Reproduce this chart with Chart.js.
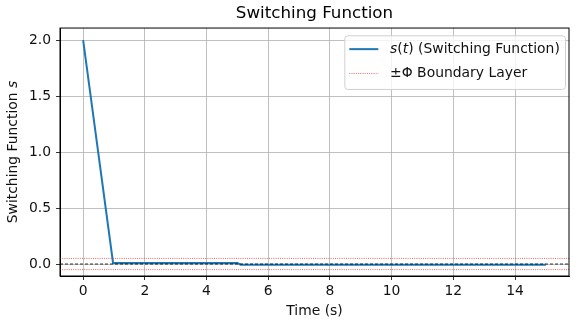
<!DOCTYPE html>
<html>
<head>
<meta charset="utf-8">
<script src="https://cdn.jsdelivr.net/npm/chart.js@4.4.1/dist/chart.umd.min.js"></script>
<style>
  html, body { margin: 0; padding: 0; background: #fff; }
  #wrap { width: 580px; height: 324px; }
</style>
</head>
<body>
<div id="wrap"><canvas id="chart" width="580" height="324"></canvas></div>
<script>
// values
const timeS = [0, 0.97, 5.0, 5.1, 15];
const switchingS = [2.0, 0.01, 0.01, -0.006, -0.006];
const phi = 0.05;
const xLimits = [-0.75, 15.75];
const yLimits = [-0.107, 2.107];
const xTicks = [0, 2, 4, 6, 8, 10, 12, 14];
const yTicks = [0, 0.5, 1.0, 1.5, 2.0];

const FONT = 'DejaVu Sans';
const FS = 13.9;
const TEXT = '#111';
const BLUE = '#1f77b4';
const RED_DOT = 'rgba(220, 50, 50, 0.75)';

const toPoints = (xs, ys) => xs.map((x, i) => ({x: x, y: ys[i]}));
const hline = (y) => toPoints(xLimits, [y, y]);

// draw text made of plain / italic pieces, starting at x
function drawParts(ctx, parts, x, y, size) {
    parts.forEach(([t, italic]) => {
        ctx.font = (italic ? 'italic ' : '') + size + 'px "' + FONT + '"';
        ctx.fillText(t, x, y);
        x += ctx.measureText(t).width;
    });
    return x;
}
function partsWidth(ctx, parts, size) {
    let w = 0;
    parts.forEach(([t, italic]) => {
        ctx.font = (italic ? 'italic ' : '') + size + 'px "' + FONT + '"';
        w += ctx.measureText(t).width;
    });
    return w;
}

const extras = {
    id: 'extras',
    afterDraw(chart) {
        const ctx = chart.ctx;
        const ca = chart.chartArea;
        ctx.save();

        // frame
        ctx.strokeStyle = '#000';
        ctx.lineWidth = 1;
        ctx.strokeRect(ca.left, ca.top, ca.right - ca.left, ca.bottom - ca.top);

        // y axis title with italic s
        const yParts = [['Switching Function ', false], ['s', true]];
        ctx.fillStyle = TEXT;
        ctx.textBaseline = 'middle';
        ctx.textAlign = 'left';
        ctx.translate(13, (ca.top + ca.bottom) / 2);
        ctx.rotate(-Math.PI / 2);
        drawParts(ctx, yParts, -partsWidth(ctx, yParts, FS) / 2, 0, FS);
        ctx.setTransform(1, 0, 0, 1, 0, 0);

        // legend
        const label1 = [['s', true], ['(', false], ['t', true], [') (Switching Function)', false]];
        const label2 = [['\u00b1\u03a6 Boundary Layer', false]];
        const textW = Math.max(partsWidth(ctx, label1, FS), partsWidth(ctx, label2, FS));
        const right = ca.right - 3.5;
        const left = right - (textW + 51);
        const top = ca.top + 7.8;
        const h = 53.6;
        ctx.beginPath();
        ctx.roundRect(left, top, right - left, h, 3);
        ctx.fillStyle = 'rgba(255,255,255,0.8)';
        ctx.fill();
        ctx.strokeStyle = '#d0d0d0';
        ctx.lineWidth = 1;
        ctx.stroke();

        const row1 = top + 13.3, row2 = top + 37.6;
        ctx.strokeStyle = BLUE;
        ctx.lineWidth = 2;
        ctx.beginPath(); ctx.moveTo(left + 4.5, row1); ctx.lineTo(left + 33.5, row1); ctx.stroke();
        ctx.strokeStyle = RED_DOT;
        ctx.lineWidth = 1;
        ctx.setLineDash([1, 1.2]);
        ctx.beginPath(); ctx.moveTo(left + 4.5, row2); ctx.lineTo(left + 33.5, row2); ctx.stroke();
        ctx.setLineDash([]);

        ctx.fillStyle = TEXT;
        ctx.textBaseline = 'middle';
        drawParts(ctx, label1, left + 45.3, row1, FS);
        drawParts(ctx, label2, left + 45.3, row2, FS);
        ctx.restore();
    }
};

const ctx = document.getElementById('chart').getContext('2d');
new Chart(ctx, {
    type: 'line',
    data: {
        datasets: [
            {
                label: 's(t) (Switching Function)',
                data: toPoints(timeS, switchingS),
                borderColor: BLUE,
                borderWidth: 2,
                order: 3
            },
            {
                label: '+Phi',
                data: hline(phi),
                borderColor: RED_DOT,
                borderWidth: 1,
                borderDash: [1, 1.2],
                order: 2
            },
            {
                label: '-Phi',
                data: hline(-phi),
                borderColor: RED_DOT,
                borderWidth: 1,
                borderDash: [1, 1.2],
                order: 2
            },
            {
                label: 'zero',
                data: hline(0),
                borderColor: '#000',
                borderWidth: 0.8,
                borderDash: [3, 2],
                order: 1
            }
        ]
    },
    options: {
        responsive: false,
        animation: false,
        devicePixelRatio: 1,
        layout: { padding: { left: 0, right: 11, top: 0, bottom: 0 } },
        elements: { point: { radius: 0 }, line: { tension: 0 } },
        plugins: {
            legend: { display: false },
            tooltip: { enabled: false },
            title: {
                display: true,
                text: 'Switching Function',
                fullSize: false,
                color: '#000',
                font: { family: FONT, size: 16.7, weight: 'normal', lineHeight: 1.2 },
                padding: { top: 4, bottom: 4 }
            }
        },
        scales: {
            x: {
                type: 'linear',
                min: xLimits[0],
                max: xLimits[1],
                afterBuildTicks: (s) => { s.ticks = xTicks.map(v => ({value: v})); },
                afterFit: (s) => { s.height = 48; },
                ticks: {
                    color: TEXT,
                    font: { family: FONT, size: FS },
                    padding: 3,
                    maxRotation: 0,
                    callback: (v) => String(v)
                },
                grid: { color: '#b0b0b0', lineWidth: 0.8, tickColor: '#000', tickLength: 4 },
                border: { color: '#000', width: 1 },
                title: {
                    display: true,
                    text: 'Time (s)',
                    color: TEXT,
                    font: { family: FONT, size: FS, lineHeight: 1.2 },
                    padding: { top: 0, bottom: 4.5 }
                }
            },
            y: {
                type: 'linear',
                min: yLimits[0],
                max: yLimits[1],
                afterBuildTicks: (s) => { s.ticks = yTicks.map(v => ({value: v})); },
                afterFit: (s) => { s.width = 60; },
                ticks: {
                    color: TEXT,
                    font: { family: FONT, size: FS },
                    padding: 5,
                    callback: (v) => v.toFixed(1)
                },
                grid: { color: '#b0b0b0', lineWidth: 0.8, tickColor: '#000', tickLength: 4 },
                border: { color: '#000', width: 1 }
            }
        }
    },
    plugins: [extras]
});
</script>
</body>
</html>
